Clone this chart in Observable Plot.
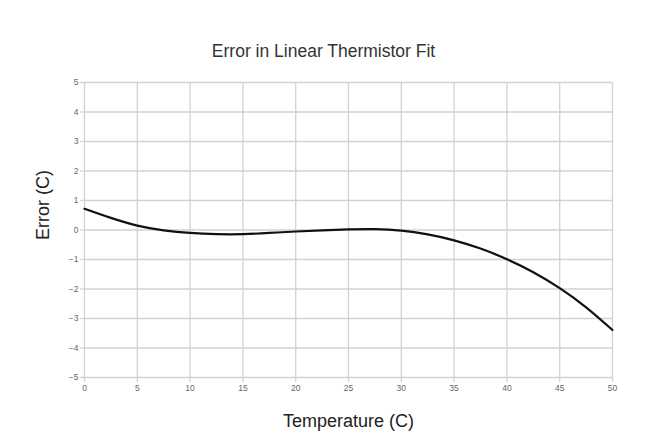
<!DOCTYPE html>
<html>
<head>
<meta charset="utf-8">
<script src="https://cdn.jsdelivr.net/npm/d3@7"></script>
<script src="https://cdn.jsdelivr.net/npm/@observablehq/plot@0.6"></script>
<style>
  html, body { margin: 0; padding: 0; background: #fff; }
</style>
</head>
<body>
<div id="chart"></div>
<script>
const temperature = [0, 2.5, 5, 7.5, 10, 12.5, 15, 17.5, 20, 22.5, 25, 27.5, 30, 32.5, 35, 37.5, 40, 42.5, 45, 47.5, 50];
const errorC = [0.72, 0.41, 0.15, -0.01, -0.10, -0.14, -0.14, -0.10, -0.05, -0.01, 0.02, 0.03, -0.02, -0.15, -0.35, -0.63, -0.99, -1.43, -1.97, -2.62, -3.39];
const xTicks = [0, 5, 10, 15, 20, 25, 30, 35, 40, 45, 50];
const yTicks = [-5, -4, -3, -2, -1, 0, 1, 2, 3, 4, 5];
const titleText = "Error in Linear Thermistor Fit";
const xLabel = "Temperature (C)";
const yLabel = "Error (C)";

const data = temperature.map((t, i) => ({t, e: errorC[i]}));

const chart = Plot.plot({
  width: 671,
  height: 448,
  marginLeft: 84,
  marginRight: 59,
  marginTop: 82,
  marginBottom: 71,
  style: {background: "#fff", fontFamily: "Liberation Sans, Arial, sans-serif"},
  x: {domain: [0, 50], ticks: xTicks, label: null},
  y: {domain: [-5, 5], ticks: yTicks, label: null},
  marks: [
    Plot.gridX(xTicks, {stroke: "#d2d2d2", strokeOpacity: 1, strokeWidth: 1.3}),
    Plot.gridY(yTicks, {stroke: "#d2d2d2", strokeOpacity: 1, strokeWidth: 1.3}),
    Plot.axisX(xTicks, {tickSize: 5, tickPadding: 2, stroke: "#d2d2d2", strokeWidth: 1.3, fill: "#666", fontSize: 8.5, label: null}),
    Plot.axisY(yTicks, {tickSize: 4, tickPadding: 2, stroke: "#d2d2d2", strokeWidth: 1.3, fill: "#666", fontSize: 8.5, label: null}),
    Plot.line(data, {x: "t", y: "e", stroke: "#111", strokeWidth: 2.2, curve: "natural"}),
    Plot.text([titleText], {frameAnchor: "top", dx: -25, dy: -38, fontSize: 17.5, fill: "#333", text: d => d}),
    Plot.text([xLabel], {frameAnchor: "bottom", dy: 49, fontSize: 18, fill: "#222", text: d => d}),
    Plot.text([yLabel], {frameAnchor: "left", dx: -41, dy: 10, rotate: -90, fontSize: 18, fill: "#222", text: d => d})
  ]
});
document.getElementById("chart").appendChild(chart);
</script>
</body>
</html>
